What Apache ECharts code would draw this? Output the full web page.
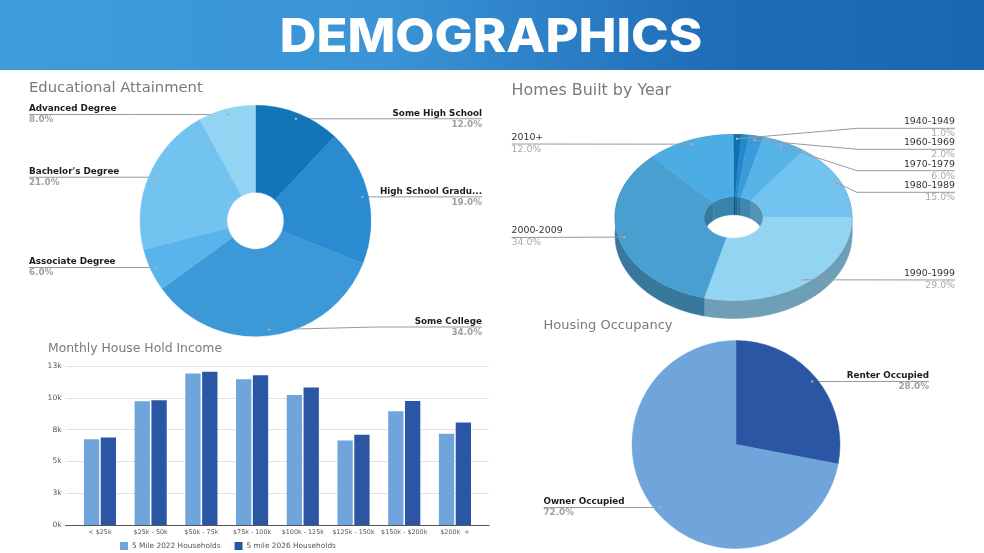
<!DOCTYPE html>
<html>
<head>
<meta charset="utf-8">
<title>Demographics</title>
<script src="https://cdn.jsdelivr.net/npm/echarts@6/dist/echarts.min.js"></script>
<style>
html,body{margin:0;padding:0;background:#fff;}
#chart{width:984px;height:553px;}
</style>
</head>
<body>
<div id="chart"></div>
<script>
//学历
var eduNames = ['Some High School', 'High School Gradu...', 'Some College', 'Associate Degree', "Bachelor's Degree", 'Advanced Degree'];
var eduValues = [12, 19, 34, 6, 21, 8];
var eduColors = ['#1275b8', '#2a8bd0', '#3c99d8', '#58b4ea', '#72c3ef', '#93d4f3'];

//建造年份 (second 1% slice has no label in the picture)
var homeNames = ['1940-1949', '', '1960-1969', '1970-1979', '1980-1989', '1990-1999', '2000-2009', '2010+'];
var homeValues = [1, 1, 2, 6, 15, 29, 34, 12];
var homeColors = ['#0f6fb3', '#2189cc', '#3b9ad9', '#55b3e8', '#72c3ef', '#93d4f3', '#49a0d0', '#4cade4'];
var homeLabelY = [128.3, 0, 149.3, 170.7, 192.3, 280, 237.5, 144];

//住房
var occNames = ['Renter Occupied', 'Owner Occupied'];
var occValues = [28, 72];
var occColors = ['#2a56a4', '#6fa5da'];

//收入
var incomeCats = ['< $25k', '$25k - 50k', '$50k - 75k', '$75k - 100k', '$100k - 125k', '$125k - 150k', '$150k - $200k', '$200k  +'];
var income2022 = [6750, 9730, 11920, 11450, 10220, 6640, 8940, 7170];
var income2026 = [6880, 9810, 12050, 11770, 10800, 7090, 9750, 8050];

var pie1 = {cx: 255.5, cy: 220.8, r: 115.5, inner: 28.5, leftX: 29, rightX: 482};
var pie3 = {cx: 736, cy: 444.5, r: 104, inner: 0, leftX: 543.5, rightX: 929};
var home = {cx: 733.5, cy: 217.5, rx: 118.5, ry: 83, hx: 29.5, hy: 20.7, depth: 18, leftX: 511.5, rightX: 955, knee: 857};

var lineColor = '#9a9a9a';
var textFont = '"DejaVu Sans", Verdana, sans-serif';

/**
 * 每个扇区中点角度(弧度)
 */
function midAngles(values) {
	var total = 0, cum = 0, out = [];
	values.forEach(function (v) { total += v; });
	values.forEach(function (v) {
		out.push((cum + v / 2) / total * Math.PI * 2);
		cum += v;
	});
	return out;
}

function anchorOf(cfg, angle) {
	return [cfg.cx + 0.95 * cfg.r * Math.sin(angle), cfg.cy - 0.95 * cfg.r * Math.cos(angle)];
}

/**
 * 扁平饼图：名称+百分比，引导线
 */
function flatPie(cfg, names, values, colors, lineYOverride) {
	var mids = midAngles(values);
	return {
		type: 'pie',
		center: [cfg.cx, cfg.cy],
		radius: [cfg.inner, cfg.r],
		startAngle: 90,
		silent: true,
		animation: false,
		avoidLabelOverlap: false,
		data: names.map(function (n, i) {
			return {name: n, value: values[i], itemStyle: {color: colors[i], borderWidth: 0.5, borderColor: colors[i], borderRadius: 0}};
		}),
		label: {
			show: true,
			formatter: function (p) {
				return '{n|' + p.name + '}\n{p|' + p.value.toFixed(1) + '%}';
			},
			rich: {
				n: {fontFamily: textFont, fontSize: 8.8, fontWeight: 'bold', color: '#1c1c1c', lineHeight: 11},
				p: {fontFamily: textFont, fontSize: 8.8, fontWeight: 'bold', color: '#a0a0a0', lineHeight: 11}
			}
		},
		labelLine: {show: true, lineStyle: {color: lineColor, width: 1}},
		labelLayout: function (params) {
			var i = params.dataIndex;
			var a = anchorOf(cfg, mids[i]);
			var right = mids[i] < Math.PI;
			var y = (lineYOverride && lineYOverride[i]) || a[1];
			var x = right ? cfg.rightX : cfg.leftX;
			return {
				x: x,
				y: y,
				align: right ? 'right' : 'left',
				verticalAlign: 'middle',
				labelLinePoints: [a, [(a[0] + x) / 2, y], [x, y]]
			};
		}
	};
}

function pieDots(cfg, values) {
	return midAngles(values).map(function (m) {
		var a = anchorOf(cfg, m);
		return {type: 'circle', z: 50, shape: {cx: a[0], cy: a[1], r: 1.2}, style: {fill: '#b0b0b0'}};
	});
}

function shade(color, f) {
	var n = parseInt(color.slice(1), 16);
	return 'rgb(' + Math.round((n >> 16) * f) + ',' + Math.round(((n >> 8) & 255) * f) + ',' + Math.round((n & 255) * f) + ')';
}

function arcPoints(rx, ry, from, to, dy) {
	var pts = [], steps = Math.max(2, Math.ceil((to - from) / 0.03));
	for (var i = 0; i <= steps; i++) {
		var t = from + (to - from) * i / steps;
		pts.push([home.cx + rx * Math.sin(t), home.cy + dy - ry * Math.cos(t)]);
	}
	return pts;
}

function homeRange(i) {
	var total = 0, cum = 0;
	homeValues.forEach(function (v, k) {
		if (k < i) { cum += v; }
		total += v;
	});
	return [cum / total * Math.PI * 2, (cum + homeValues[i]) / total * Math.PI * 2];
}

/**
 * 3D饼图：外壁、内壁
 */
function renderHomeWalls(params, api) {
	var i = params.dataIndex, r = homeRange(i), kids = [];
	var wall = shade(homeColors[i], 0.75);
	var outerTop = arcPoints(home.rx, home.ry, r[0], r[1], 0);
	var outerBot = arcPoints(home.rx, home.ry, r[0], r[1], home.depth).reverse();
	kids.push({type: 'polygon', shape: {points: outerTop.concat(outerBot)}, style: {fill: wall, stroke: wall, lineWidth: 0.5}});
	// 内壁只看得到后半圈
	var from = r[0], to = r[1];
	var segs = [];
	if (from < Math.PI / 2) { segs.push([from, Math.min(to, Math.PI / 2)]); }
	if (to > Math.PI * 1.5) { segs.push([Math.max(from, Math.PI * 1.5), to]); }
	segs.forEach(function (s) {
		var top = arcPoints(home.hx, home.hy, s[0], s[1], 0);
		var bot = arcPoints(home.hx, home.hy, s[0], s[1], home.depth).reverse();
		kids.push({type: 'polygon', shape: {points: top.concat(bot)}, style: {fill: wall, stroke: wall, lineWidth: 0.5}});
	});
	return {type: 'group', children: kids};
}

function renderHomeTop(params, api) {
	var i = params.dataIndex, r = homeRange(i);
	var outer = arcPoints(home.rx, home.ry, r[0], r[1], 0);
	var inner = arcPoints(home.hx, home.hy, r[0], r[1], 0).reverse();
	return {
		type: 'polygon',
		shape: {points: outer.concat(inner)},
		style: {fill: homeColors[i], stroke: homeColors[i], lineWidth: 0.5}
	};
}

function renderHomeLabels(params, api) {
	var i = params.dataIndex, name = homeNames[i];
	if (!name) { return null; }
	var r = homeRange(i), mid = (r[0] + r[1]) / 2;
	var a = [home.cx + 0.95 * home.rx * Math.sin(mid), home.cy - 0.95 * home.ry * Math.cos(mid)];
	var right = mid < Math.PI;
	var x = right ? home.rightX : home.leftX;
	var y = homeLabelY[i];
	var pts = (Math.abs(y - a[1]) < 1) ? [a, [x, y]] : [a, [home.knee, y], [x, y]];
	return {
		type: 'group',
		children: [
			{type: 'polyline', shape: {points: pts}, style: {stroke: lineColor, lineWidth: 1, fill: null}},
			{type: 'circle', shape: {cx: a[0], cy: a[1], r: 1.2}, style: {fill: '#b0b0b0'}},
			{type: 'text', style: {x: x, y: y - 6.5, text: name, fill: '#333', font: '9.4px ' + textFont, align: right ? 'right' : 'left', verticalAlign: 'middle'}},
			{type: 'text', style: {x: x, y: y + 5.5, text: api.value(0).toFixed(1) + '%', fill: '#aaa', font: '9.4px ' + textFont, align: right ? 'right' : 'left', verticalAlign: 'middle'}}
		]
	};
}

function sectionTitle(text, left, top, size) {
	return {
		text: text,
		left: left,
		top: top,
		padding: 0,
		textStyle: {color: '#7a7a7a', fontFamily: textFont, fontSize: size, fontWeight: 'normal'}
	};
}

var homeData = homeValues.map(function (v) { return [v]; });

var option = {
	backgroundColor: '#fff',
	animation: false,
	title: [
		sectionTitle('Educational Attainment', 29, 81, 14.75),
		sectionTitle('Homes Built by Year', 511.5, 83, 15.9),
		sectionTitle('Housing Occupancy', 543.5, 319, 13),
		sectionTitle('Monthly House Hold Income', 48, 343, 12.4)
	],
	legend: {
		left: 120,
		top: 542,
		itemWidth: 8,
		itemHeight: 8,
		itemGap: 14,
		padding: 0,
		icon: 'rect',
		selectedMode: false,
		textStyle: {color: '#555', fontFamily: textFont, fontSize: 7.4, padding: [0, 0, 0, -1]},
		data: ['5 Mile 2022 Households', '5 mile 2026 Households']
	},
	// 第一个grid画网格线和轴线，第二个grid画柱子(柱子比轴线两端各缩进一点)
	grid: [
		{left: 65.5, right: 495, top: 366, bottom: 28},
		{left: 74.6, right: 503.7, top: 366, bottom: 28}
	],
	xAxis: [
		{
			type: 'category',
			gridIndex: 0,
			data: incomeCats,
			axisTick: {show: false},
			axisLabel: {show: false},
			axisLine: {lineStyle: {color: '#555', width: 1}}
		},
		{
			type: 'category',
			gridIndex: 1,
			data: incomeCats,
			axisTick: {show: false},
			axisLine: {show: false},
			axisLabel: {interval: 0, color: '#555', fontFamily: textFont, fontSize: 6.4, margin: 4}
		}
	],
	yAxis: [
		{
			type: 'value',
			gridIndex: 0,
			min: 0,
			max: 12500,
			interval: 2500,
			axisLine: {show: false},
			axisTick: {show: false},
			splitLine: {lineStyle: {color: '#e2e2e2', width: 1}},
			axisLabel: {
				color: '#555',
				fontFamily: textFont,
				fontSize: 7.5,
				margin: 4,
				formatter: function (v) { return (v / 1000).toFixed(0) + 'k'; }
			}
		},
		{
			type: 'value',
			gridIndex: 1,
			min: 0,
			max: 12500,
			interval: 2500,
			show: false
		}
	],
	graphic: [
		{
			type: 'rect',
			z: -1,
			shape: {x: 0, y: 0, width: 984, height: 70},
			style: {
				fill: new echarts.graphic.LinearGradient(0, 0, 1, 0, [
					{offset: 0, color: '#3d9edb'},
					{offset: 0.4, color: '#3a93d5'},
					{offset: 0.72, color: '#1f6db8'},
					{offset: 1, color: '#1b66b2'}
				])
			}
		},
		{
			type: 'text',
			z: 60,
			x: 491,
			y: 37.5,
			scaleX: 1.08,
			style: {
				text: 'DEMOGRAPHICS',
				fill: '#fff',
				font: '800 47px Inter, "Open Sans", sans-serif',
				align: 'center',
				verticalAlign: 'middle'
			}
		}
	].concat(pieDots(pie1, eduValues), pieDots(pie3, occValues)),
	series: [
		{
			type: 'bar',
			name: '5 Mile 2022 Households',
			xAxisIndex: 1,
			yAxisIndex: 1,
			data: income2022,
			barWidth: 15.3,
			barGap: '10%',
			silent: true,
			itemStyle: {color: '#6fa5da'}
		},
		{
			type: 'bar',
			name: '5 mile 2026 Households',
			xAxisIndex: 1,
			yAxisIndex: 1,
			data: income2026,
			barWidth: 15.3,
			silent: true,
			itemStyle: {color: '#2a56a4'}
		},
		flatPie(pie1, eduNames, eduValues, eduColors, {2: 327}),
		flatPie(pie3, occNames, occValues, occColors),
		{type: 'custom', coordinateSystem: 'none', silent: true, z: 2, data: homeData, renderItem: renderHomeWalls},
		{type: 'custom', coordinateSystem: 'none', silent: true, z: 3, data: homeData, renderItem: renderHomeTop},
		{type: 'custom', coordinateSystem: 'none', silent: true, z: 4, data: homeData, renderItem: renderHomeLabels}
	]
};

var chart = echarts.init(document.getElementById('chart'));
chart.setOption(option);
</script>
</body>
</html>
